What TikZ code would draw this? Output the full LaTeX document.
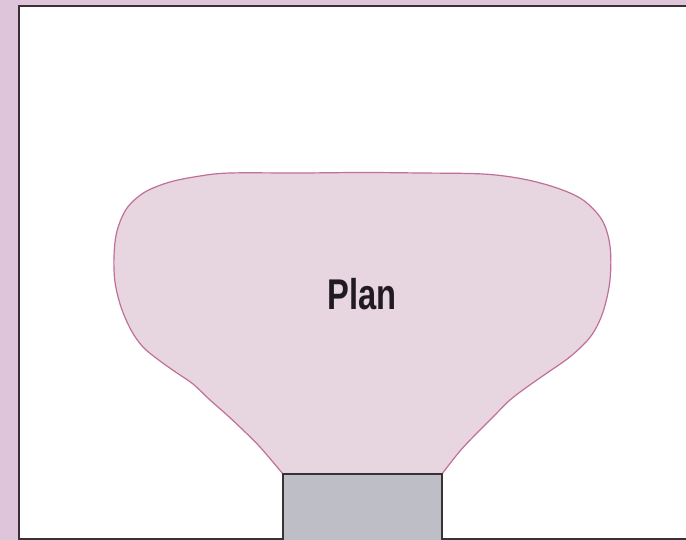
\documentclass[tikz,border=0pt]{standalone}
\usepackage{fontspec}
\setmainfont{Liberation Sans}
\definecolor{framepink}{HTML}{DFC5D9}
\definecolor{blobfill}{HTML}{E7D5DF}
\definecolor{blobline}{HTML}{C07098}
\definecolor{stagegray}{HTML}{BDBEC6}
\definecolor{darkline}{HTML}{3A3038}
\definecolor{textdark}{HTML}{221A22}
\begin{document}
\begin{tikzpicture}[x=1pt,y=-1pt,
  blobstyle/.style={fill=blobfill,draw=blobline,line width=1.2pt,line join=round},
  stagestyle/.style={fill=stagegray,draw=darkline,line width=1.6pt},
  labelstyle/.style={font=\bfseries\fontsize{43}{43}\selectfont,text=textdark,xscale=0.76,inner sep=0pt}]
\useasboundingbox (0,0) rectangle (686,540);
\clip (0,0) rectangle (686,540);
\fill[framepink] (0,0) rectangle (686,540);
\fill[white] (19,6.5) rectangle (690,539);
\draw[darkline,line width=2pt] (690,6.5) -- (19,6.5) -- (19,539) -- (690,539);
% blob
\draw[blobstyle] plot[smooth,tension=0.55] coordinates {
 (283,474) (260,447) (243,430) (227,415) (210,400) (193,384) (177,373)
 (160,361) (143,347) (131,330) (121,307) (115,282) (114,256) (117,231)
 (127,208) (145,192) (170,182) (200,176) (230,173) (300,173) (362,172.5)
 (420,173) (483,174) (523,179) (557,188) (583,200) (602,220) (610,246)
 (610,280) (603,312) (591,336) (571,356) (547,373) (527,387) (510,400)
 (493,417) (477,433) (460,451) (442,474)} -- cycle;
\draw[stagestyle] (283,474) rectangle (442,545);
\node[labelstyle] (plan) at (362,294) {Plan};
\end{tikzpicture}
\end{document}
